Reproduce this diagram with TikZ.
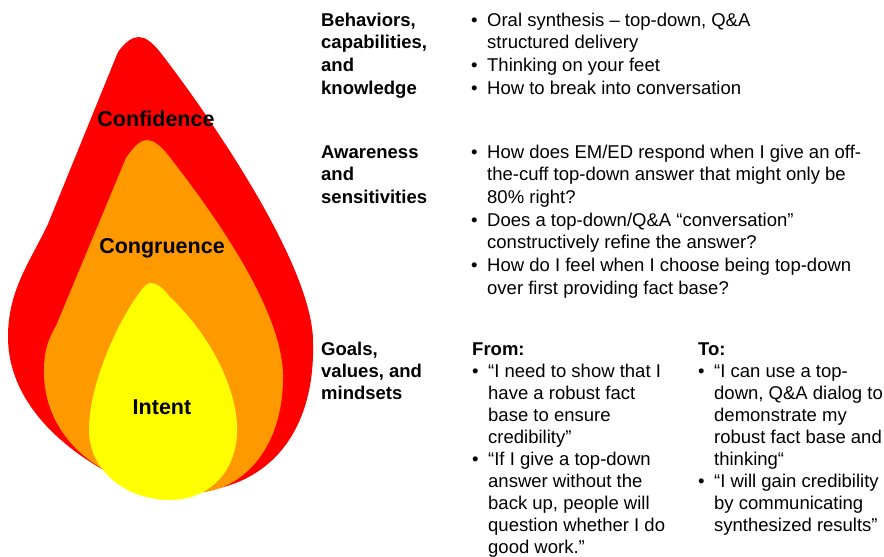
\documentclass[tikz,border=0pt]{standalone}
\usepackage{fontspec}
\setmainfont{Liberation Sans}

\definecolor{flamered}{HTML}{FF0000}
\definecolor{flameorange}{HTML}{FF9900}
\definecolor{flameyellow}{HTML}{FFFF00}

\tikzstyle{layer} = [font=\fontsize{21.5}{25}\selectfont\bfseries]
% lists are anchored at the baseline of their last line
\tikzstyle{head} = [anchor=base west,inner sep=0pt,align=left,font=\fontsize{18.5}{22.7}\selectfont\bfseries]
\tikzstyle{body} = [anchor=base west,inner sep=0pt,align=left,font=\fontsize{18.5}{22.7}\selectfont]
\tikzstyle{goalhead} = [head,font=\fontsize{18.5}{22}\selectfont\bfseries]
\tikzstyle{goalbody} = [body,font=\fontsize{18.5}{22}\selectfont]

\newcommand{\bul}{\makebox[16pt][l]{\textbullet}}
\newcommand{\hang}{\hspace*{16pt}}

\begin{document}
\begin{tikzpicture}[x=1pt,y=-1pt]
\useasboundingbox (0,0) rectangle (884,557);

% the three flames, outer to inner
\fill[flamered] (139,37) .. controls (145,37) and (152,42) .. (160,52)
  .. controls (205,110) and (314,265) .. (313,343)
  .. controls (315,420) and (280,478) .. (210,490) -- (123,480)
  .. controls (60,450) and (8,400) .. (8,337)
  .. controls (8,290) and (30,262) .. (48,224) -- (118,52)
  .. controls (126,41) and (133,37) .. (139,37) -- cycle;
\fill[flameorange] (147,140) .. controls (153,140) and (160,145) .. (168,155)
  .. controls (215,215) and (282,310) .. (283,375)
  .. controls (284,440) and (250,485) .. (205,492) -- (115,475)
  .. controls (70,455) and (43,415) .. (44,370)
  .. controls (44,350) and (49,338) .. (56,326) -- (126,158)
  .. controls (135,145) and (141,140) .. (147,140) -- cycle;
\fill[flameyellow] (151,283) .. controls (157,283) and (163,288) .. (170,297)
  .. controls (210,335) and (235,385) .. (237,425)
  .. controls (239,470) and (210,500) .. (170,500)
  .. controls (125,500) and (88,470) .. (89,428)
  .. controls (90,380) and (120,318) .. (140,292)
  .. controls (145,285) and (148,283) .. (151,283) -- cycle;

\node[layer] (confidence) at (156,119) {Confidence};
\node[layer] (congruence) at (162,248) {Congruence};
\node[layer] (intent) at (162,407) {Intent};

% behaviors
\node[head] (behav) at (321,94.1) {Behaviors,\\capabilities,\\and\\knowledge};
\node[body] (behavlist) at (471,94.1) {\bul Oral synthesis – top-down, Q\&A\\
  \hang structured delivery\\
  \bul Thinking on your feet\\
  \bul How to break into conversation};

% awareness
\node[head] (aware) at (321,203.4) {Awareness\\and\\sensitivities};
\node[body] (awarelist) at (471,294.2) {\bul How does EM/ED respond when I give an off-\\
  \hang the-cuff top-down answer that might only be\\
  \hang 80\% right?\\
  \bul Does a top-down/Q\&A “conversation”\\
  \hang constructively refine the answer?\\
  \bul How do I feel when I choose being top-down\\
  \hang over first providing fact base?};

% goals: from / to
\node[goalhead] (goals) at (321,399) {Goals,\\values, and\\mindsets};
\node[goalbody] (fromlist) at (472,553) {\textbf{From:}\\
  \bul “I need to show that I\\
  \hang have a robust fact\\
  \hang base to ensure\\
  \hang credibility”\\
  \bul “If I give a top-down\\
  \hang answer without the\\
  \hang back up, people will\\
  \hang question whether I do\\
  \hang good work.”};
\node[goalbody] (tolist) at (698,531) {\textbf{To:}\\
  \bul “I can use a top-\\
  \hang down, Q\&A dialog to\\
  \hang demonstrate my\\
  \hang robust fact base and\\
  \hang thinking“\\
  \bul “I will gain credibility\\
  \hang by communicating\\
  \hang synthesized results”};
\end{tikzpicture}
\end{document}
